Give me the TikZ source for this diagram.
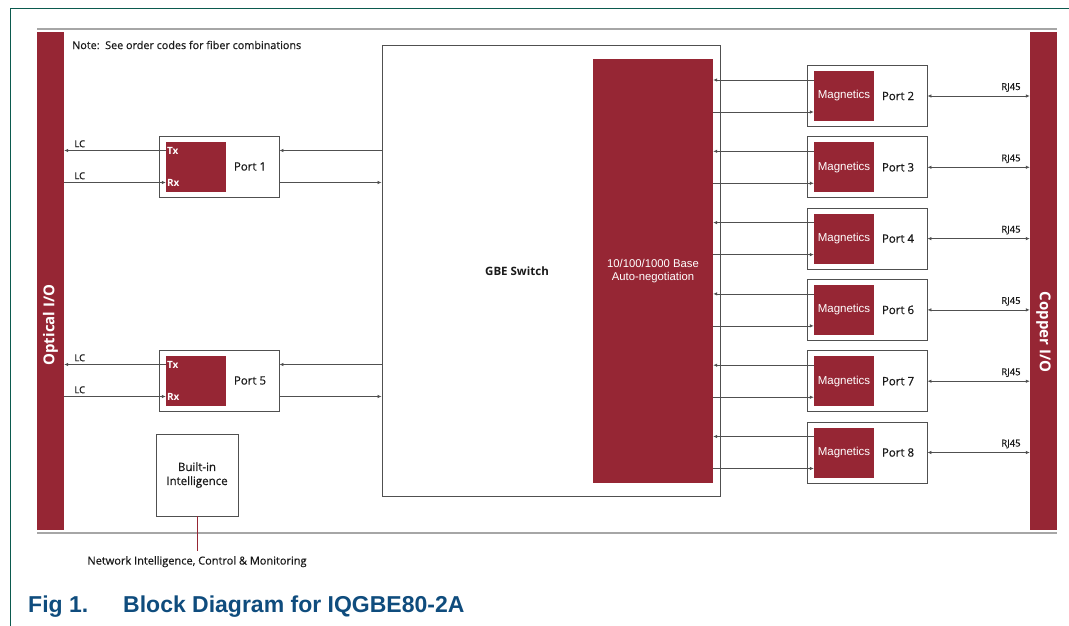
\documentclass[tikz,border=0pt]{standalone}
\usepackage{fontspec}
\setmainfont{Open Sans}
\newfontfamily\medf[FakeBold=0.6]{Open Sans}
\newfontfamily\arial{Liberation Sans}
\usetikzlibrary{arrows.meta}
\definecolor{brick}{HTML}{962634}
\definecolor{framec}{HTML}{0B5A4E}
\definecolor{capblue}{HTML}{0F4C7D}
\definecolor{rulec}{HTML}{A6A6A6}
\definecolor{boxline}{HTML}{505050}
\definecolor{txt}{HTML}{1A1A1A}
\begin{document}
\begin{tikzpicture}[x=1pt,y=-1pt,
  blk/.style={draw=boxline, line width=0.9pt, fill=white, inner sep=0},
  redb/.style={fill=brick, draw=none, inner sep=0},
  conn/.style={draw=boxline, line width=0.7pt},
  arr/.style={conn, -{Latex[length=4pt,width=3.5pt]}},
  darr/.style={conn, {Latex[length=4pt,width=3.5pt]}-{Latex[length=4pt,width=3.5pt]}},
  lbl/.style={font=\medf\fontsize{9.5}{11}\selectfont, text=txt, inner sep=0},
  plbl/.style={font=\medf\fontsize{11.5}{13}\selectfont, text=txt, inner sep=0},
  wlbl/.style={font=\fontsize{10}{11}\selectfont\bfseries, text=white, inner sep=0, anchor=west},
  mag/.style={redb, minimum width=60pt, minimum height=50pt, font=\arial\fontsize{11.5}{13}\selectfont, text=white},
  portbox/.style={blk, minimum width=120pt, minimum height=61pt},
  bar/.style={redb, minimum width=27pt, minimum height=498pt}
]
\useasboundingbox (0,0) rectangle (1069,626);
% frame and rules
\draw[framec, line width=1pt] (10.5,626) -- (10.5,8.5) -- (1069,8.5);
\draw[rulec, line width=2pt] (37,29) -- (1057,29);
\draw[rulec, line width=2pt] (37,533) -- (1057,533);

% side bars
\node[bar] (optical) at (50.5,281) {};
\node[bar] (copper) at (1043.5,281) {};
\node[rotate=90, text=white, font=\fontsize{15}{17}\selectfont\bfseries] (optlbl) at (50.5,325) {Optical I/O};
\node[rotate=-90, text=white, font=\fontsize{15}{17}\selectfont\bfseries] (coplbl) at (1043.5,332) {Copper I/O};

\node[lbl, anchor=west, font=\medf\fontsize{10.8}{12}\selectfont] (note) at (72,45) {Note:\ \ See order codes for fiber combinations};

% GBE switch
\node[blk, minimum width=338pt, minimum height=451pt] (gbe) at (551,270.5) {};
\node[plbl, font=\fontsize{11.5}{13}\selectfont\bfseries] (gbelbl) at (517,271) {GBE Switch};
\node[redb, minimum width=120pt, minimum height=424pt, align=center, text=white,
      font=\arial\fontsize{11.3}{13}\selectfont] (auto) at (653,271) {10/100/1000 Base\\Auto-negotiation};

% optical ports
\foreach \n/\cy/\name in {1/166.5/p1, 5/380.5/p5}{
  \node[portbox] (\name) at (219,\cy) {};
  \node[redb, minimum width=60pt, minimum height=50pt] (\name r) at (196,\cy) {};
  \node[plbl] (\name l) at (250,\cy) {Port \n};
  \coordinate (\name t) at (196,\cy-16);
  \coordinate (\name b) at (196,\cy+16);
  \draw[arr] (\name r.west |- \name t) -- (optical.east |- \name t);
  \draw[arr] (optical.east |- \name b) -- (\name r.west |- \name b);
  \draw[arr] (gbe.west |- \name t) -- (\name.east |- \name t);
  \draw[arr] (\name.east |- \name b) -- (gbe.west |- \name b);
  \node[wlbl] (\name tx) at ([xshift=1pt]\name r.west |- \name t) {Tx};
  \node[wlbl] (\name rx) at ([xshift=1pt]\name r.west |- \name b) {Rx};
  \node[lbl, anchor=south west] (\name lc1) at ([xshift=10pt,yshift=3pt]optical.east |- \name t) {LC};
  \node[lbl, anchor=south west] (\name lc2) at ([xshift=10pt,yshift=3pt]optical.east |- \name b) {LC};
}

% copper ports
\foreach \n/\cy in {2/96,3/167.3,4/238.6,6/309.9,7/381.2,8/452.5}{
  \node[portbox] (q\n) at (867,\cy) {};
  \node[mag] (m\n) at (844,\cy) {Magnetics};
  \node[plbl] (q\n l) at (898,\cy) {Port \n};
  \coordinate (q\n t) at (844,\cy-16);
  \coordinate (q\n b) at (844,\cy+16);
  \draw[arr] (m\n.west |- q\n t) -- (auto.east |- q\n t);
  \draw[arr] (auto.east |- q\n b) -- (m\n.west |- q\n b);
  \draw[darr] (q\n.east) -- (copper.west |- q\n.east);
  \node[lbl, anchor=south east] (rj\n) at ([xshift=-9pt,yshift=4pt]copper.west |- q\n.east) {RJ45};
}

% built-in intelligence
\node[blk, minimum width=82pt, minimum height=82pt, align=center,
      font=\medf\fontsize{11.5}{14}\selectfont, text=txt] (bi) at (197,475) {Built-in\\Intelligence};
\coordinate (biend) at (197,551);
\draw[brick, line width=0.8pt] (bi.south) -- (biend);
\node[lbl, anchor=north, font=\medf\fontsize{11}{12}\selectfont] (netlbl) at ([yshift=-5pt]biend) {Network Intelligence, Control \& Monitoring};

% caption
\node[anchor=west, inner sep=0, text=capblue, font=\arial\bfseries\fontsize{23}{26}\selectfont] (fig) at (28,607) {Fig 1.};
\node[anchor=west, inner sep=0, text=capblue, font=\arial\bfseries\fontsize{23}{26}\selectfont] (figt) at (123,607) {Block Diagram for IQGBE80-2A};
\end{tikzpicture}
\end{document}
